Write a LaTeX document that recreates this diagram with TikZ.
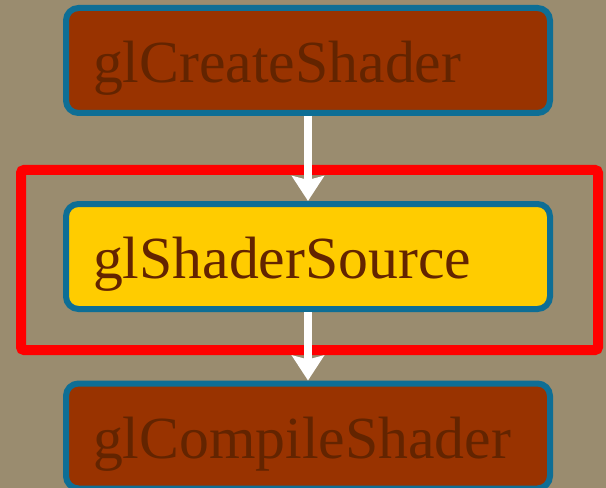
\documentclass[tikz,border=0pt]{standalone}
\usepackage{fontspec}
\setmainfont{Liberation Serif}
\usepackage{tikz}
\usetikzlibrary{arrows.meta}
\definecolor{slideBg}{HTML}{9A8C6F}
\definecolor{callRed}{HTML}{993300}
\definecolor{callYellow}{HTML}{FFCC00}
\definecolor{callBorder}{HTML}{0E6E95}
\definecolor{callText}{HTML}{632400}
\definecolor{focusRed}{HTML}{FF0000}

\begin{document}
\begin{tikzpicture}[
    call/.style={rectangle, draw=callBorder, line width=0.12cm, fill=callRed, rounded corners=0.25cm, minimum width=9.68cm, minimum height=2.1cm, text width=8.6cm, align=left, inner xsep=0.52cm, text height=0.88cm, text depth=0pt, font=\fontsize{34}{40}\selectfont, text=callText},
    focus/.style={rectangle, draw=focusRed, line width=0.2cm, rounded corners=0.06cm, minimum width=11.54cm, minimum height=3.6cm},
    arrow/.style={-{Stealth[length=0.5cm, width=0.64cm, inset=0.08cm]}, line width=0.15cm, color=white}
]

% Slide background
\useasboundingbox (0,0) rectangle (12.12,-9.76);
\clip (0,0) rectangle (12.12,-9.76);
\fill[slideBg] (0,0) rectangle (12.12,-9.76);

% Calls
\node[call] (create) at (6.16,-1.21) {glCreateShader};
\node[call, fill=callYellow] (source) at (6.16,-5.13) {glShaderSource};
\node[call] (compile) at (6.16,-8.72) {glCompileShader};

% Highlight
\node[focus] (frame) at (6.19,-5.2) {};

% Connections
\draw[arrow] (create) -- (source);
\draw[arrow] (source) -- (compile);

\end{tikzpicture}
\end{document}
